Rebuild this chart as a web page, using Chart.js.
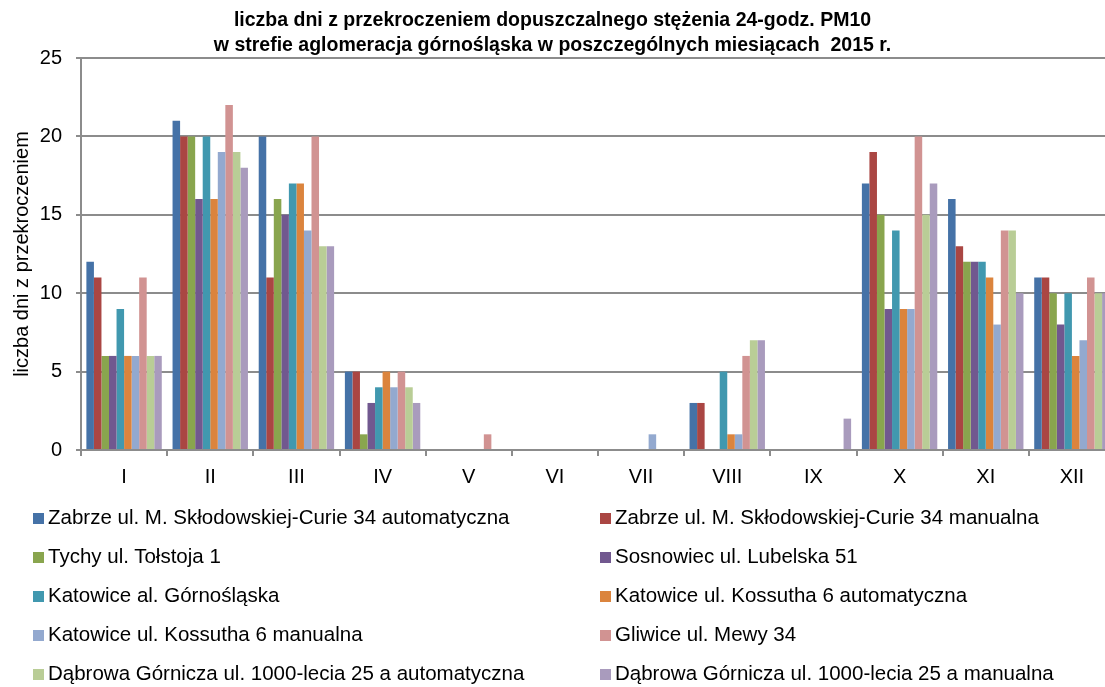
<!DOCTYPE html>
<html>
<head>
<meta charset="utf-8">
<script src="https://cdn.jsdelivr.net/npm/chart.js@4.4.1/dist/chart.umd.min.js"></script>
<style>
    html, body { margin: 0; padding: 0; background: #fff; overflow: hidden; }
    body { width: 1105px; height: 687px; position: relative; font-family: "Liberation Sans", Arial, sans-serif; }
    #wrap { position: absolute; left: 0; top: 0; width: 1118px; height: 687px; }
    #title {
        position: absolute; left: 0; top: 7px; width: 1105px; text-align: center;
        font-weight: bold; font-size: 19.5px; line-height: 25px; color: #000;
    }
    #legend { position: absolute; left: 0; top: 0; width: 1105px; height: 687px; pointer-events: none; }
    .item { position: absolute; font-size: 20.5px; color: #000; white-space: nowrap; line-height: 20px; }
    .item span.box { display: inline-block; width: 11px; height: 11px; margin-right: 4px; vertical-align: 0px; }
</style>
</head>
<body>
<div id="wrap"><canvas id="chart" width="1118" height="687"></canvas></div>
<div id="title">liczba dni z przekroczeniem dopuszczalnego stężenia 24-godz. PM10<br>w strefie aglomeracja górnośląska w poszczególnych miesiącach&nbsp; 2015 r.</div>
<div id="legend"></div>
<script>
const months = ["I", "II", "III", "IV", "V", "VI", "VII", "VIII", "IX", "X", "XI", "XII"];

const seriesNames = [
    "Zabrze ul. M. Skłodowskiej-Curie 34 automatyczna",
    "Zabrze ul. M. Skłodowskiej-Curie 34 manualna",
    "Tychy ul. Tołstoja 1",
    "Sosnowiec ul. Lubelska 51",
    "Katowice al. Górnośląska",
    "Katowice ul. Kossutha 6 automatyczna",
    "Katowice ul. Kossutha 6 manualna",
    "Gliwice ul. Mewy 34",
    "Dąbrowa Górnicza ul. 1000-lecia 25 a automatyczna",
    "Dąbrowa Górnicza ul. 1000-lecia 25 a manualna"
];

const seriesColors = [
    "#4572a7", "#aa4643", "#89a54e", "#71588f", "#4198af",
    "#db843d", "#93a9cf", "#d19392", "#b9cd96", "#a99bbd"
];

// one array per station, Jan..Dec
const zabrzeAuto     = [12, 21, 20, 5, 0, 0, 0, 3, 0, 17, 16, 11];
const zabrzeManual   = [11, 20, 11, 5, 0, 0, 0, 3, 0, 19, 13, 11];
const tychy          = [6, 20, 16, 1, 0, 0, 0, 0, 0, 15, 12, 10];
const sosnowiec      = [6, 16, 15, 3, 0, 0, 0, 0, 0, 9, 12, 8];
const katowiceAl     = [9, 20, 17, 4, 0, 0, 0, 5, 0, 14, 12, 10];
const kossuthaAuto   = [6, 16, 17, 5, 0, 0, 0, 1, 0, 9, 11, 6];
const kossuthaManual = [6, 19, 14, 4, 0, 0, 1, 1, 0, 9, 8, 7];
const gliwice        = [11, 22, 20, 5, 1, 0, 0, 6, 0, 20, 14, 11];
const dabrowaAuto    = [6, 19, 13, 4, 0, 0, 0, 7, 0, 15, 14, 10];
const dabrowaManual  = [6, 18, 13, 3, 0, 0, 0, 7, 2, 17, 10, 10];

const seriesValues = [
    zabrzeAuto, zabrzeManual, tychy, sosnowiec, katowiceAl,
    kossuthaAuto, kossuthaManual, gliwice, dabrowaAuto, dabrowaManual
];

const yTicks = [0, 5, 10, 15, 20, 25];

const gridGray = "#8c8c8c";
const axisFont = { family: "Liberation Sans", size: 20 };

const datasets = seriesNames.map((name, i) => ({
    label: name,
    data: seriesValues[i],
    backgroundColor: seriesColors[i],
    borderWidth: 0,
    categoryPercentage: 0.875,
    barPercentage: 1.0
}));

new Chart(document.getElementById("chart"), {
    type: "bar",
    data: { labels: months, datasets },
    options: {
        responsive: false,
        animation: false,
        layout: { padding: { top: 58, bottom: 197, left: 0, right: 3 } },
        plugins: {
            legend: { display: false },
            title: { display: false },
            tooltip: { enabled: false }
        },
        scales: {
            x: {
                grid: {
                    offset: true,
                    drawOnChartArea: false,
                    drawTicks: true,
                    tickLength: 6,
                    color: gridGray,
                    lineWidth: 2
                },
                border: { color: gridGray, width: 2 },
                ticks: {
                    color: "#000",
                    font: axisFont,
                    padding: 9,
                    maxRotation: 0
                },
                afterFit: s => { s.height = 40; }
            },
            y: {
                min: 0,
                max: 25,
                afterBuildTicks: s => { s.ticks = yTicks.map(v => ({ value: v })); },
                grid: {
                    color: gridGray,
                    lineWidth: 2,
                    tickLength: 5
                },
                border: { color: gridGray, width: 2 },
                ticks: {
                    color: "#000",
                    font: axisFont,
                    padding: 14
                },
                title: {
                    display: true,
                    text: "liczba dni z przekroczeniem",
                    color: "#000",
                    font: axisFont,
                    padding: { top: 10, bottom: 0 }
                },
                afterFit: s => { s.width = 81; }
            }
        }
    }
});

// legend: two columns, five rows
const legendEl = document.getElementById("legend");
seriesNames.forEach((name, i) => {
    const col = i % 2;
    const row = Math.floor(i / 2);
    const div = document.createElement("div");
    div.className = "item";
    div.style.left = (col === 0 ? 33 : 600) + "px";
    div.style.top = (507 + row * 39) + "px";
    div.innerHTML = `<span class="box" style="background:${seriesColors[i]}"></span>${name}`;
    legendEl.appendChild(div);
});
</script>
</body>
</html>
